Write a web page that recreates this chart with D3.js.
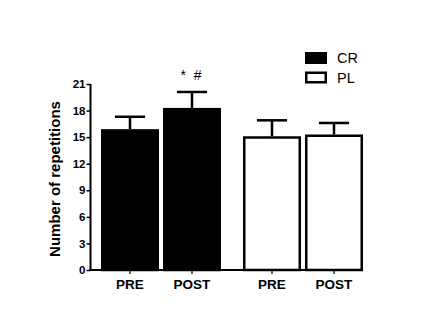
<!DOCTYPE html>
<html>
<head>
<meta charset="utf-8">
<script src="https://cdn.jsdelivr.net/npm/d3@7"></script>
<style>
  html, body { margin: 0; padding: 0; background: #fff; }
  svg { display: block; }
</style>
</head>
<body>
<svg id="chart" width="432" height="333"></svg>
<script>
// ---- data ----
const groups = ["CR", "PL"];
const phases = ["PRE", "POST"];
const crMeans = [15.9, 18.3];
const crErrors = [1.4, 1.8];
const plMeans = [15.1, 15.3];
const plErrors = [1.8, 1.3];
const yTicks = [0, 3, 6, 9, 12, 15, 18, 21];
const yLabel = "Number of repetitions";
const annotation = "* #";

const rows = [];
groups.forEach((g, gi) => {
  const means = gi === 0 ? crMeans : plMeans;
  const errs = gi === 0 ? crErrors : plErrors;
  phases.forEach((p, pi) => rows.push({ group: g, phase: p, mean: means[pi], err: errs[pi] }));
});

// ---- layout ----
const svg = d3.select("#chart");
const font = "'Liberation Sans', Arial, sans-serif";

const y = d3.scaleLinear().domain([0, 21]).range([270, 84]);
const xGroup = d3.scaleBand().domain(groups).range([101, 363]).paddingInner(0.155).paddingOuter(0);
const xPhase = d3.scaleBand().domain(phases).range([0, xGroup.bandwidth()]).paddingInner(0.0645).paddingOuter(0);
const fill = d3.scaleOrdinal().domain(groups).range(["#000", "#fff"]);

const sw = 2.5;

// bars
const bars = svg.append("g");
rows.forEach(d => {
  const x0 = xGroup(d.group) + xPhase(d.phase);
  const w = xPhase.bandwidth();
  const cx = x0 + w / 2;
  // error bar
  bars.append("line")
    .attr("x1", cx).attr("x2", cx)
    .attr("y1", y(d.mean)).attr("y2", y(d.mean + d.err))
    .attr("stroke", "#000").attr("stroke-width", sw);
  bars.append("line")
    .attr("x1", cx - w * 0.26).attr("x2", cx + w * 0.26)
    .attr("y1", y(d.mean + d.err)).attr("y2", y(d.mean + d.err))
    .attr("stroke", "#000").attr("stroke-width", sw);
  bars.append("rect")
    .attr("x", x0 + sw / 2).attr("y", y(d.mean) + sw / 2)
    .attr("width", w - sw).attr("height", y(0) - y(d.mean) - sw / 2)
    .attr("fill", fill(d.group))
    .attr("stroke", "#000").attr("stroke-width", sw);
});

// annotation above CR POST
const annRow = rows[1];
svg.append("text")
  .attr("x", xGroup(annRow.group) + xPhase(annRow.phase) + xPhase.bandwidth() / 2)
  .attr("y", y(annRow.mean + annRow.err) - 12)
  .attr("text-anchor", "middle")
  .attr("font-family", font).attr("font-size", 14)
  .attr("letter-spacing", "2px")
  .text(annotation);

// y axis
const yAxis = svg.append("g")
  .attr("transform", "translate(90.5,0)")
  .call(d3.axisLeft(y).tickValues(yTicks).tickSize(4).tickPadding(1).tickFormat(d3.format("d")));
yAxis.select(".domain").attr("stroke-width", 2).attr("d", `M0,${y(21)}V${y(0)}`);
yAxis.selectAll(".tick line").attr("stroke-width", 1.5);
yAxis.selectAll("text").attr("font-family", font).attr("font-size", 11.5).attr("font-weight", "bold").attr("fill", "#000");

// x axis
const xCenters = rows.map(d => ({ label: d.phase, x: xGroup(d.group) + xPhase(d.phase) + xPhase.bandwidth() / 2 }));
svg.append("line")
  .attr("x1", 89.5).attr("x2", xGroup("PL") + xGroup.bandwidth())
  .attr("y1", y(0)).attr("y2", y(0))
  .attr("stroke", "#000").attr("stroke-width", 2);
xCenters.forEach(c => {
  svg.append("line").attr("x1", c.x).attr("x2", c.x)
    .attr("y1", y(0)).attr("y2", y(0) + 4)
    .attr("stroke", "#000").attr("stroke-width", 1.2);
  svg.append("text").attr("x", c.x).attr("y", y(0) + 19)
    .attr("text-anchor", "middle")
    .attr("font-family", font).attr("font-size", 13.5).attr("font-weight", "bold")
    .text(c.label);
});

// y label
svg.append("text")
  .attr("transform", `translate(60,${(y(0) + y(21)) / 2 + 2}) rotate(-90)`)
  .attr("text-anchor", "middle")
  .attr("font-family", font).attr("font-size", 15).attr("font-weight", "bold")
  .text(yLabel);

// legend
const legend = svg.append("g");
groups.forEach((g, i) => {
  const ly = 52 + i * 19.5;
  legend.append("rect")
    .attr("x", 305 + sw / 2).attr("y", ly + sw / 2)
    .attr("width", 22 - sw).attr("height", 12 - sw)
    .attr("fill", fill(g)).attr("stroke", "#000").attr("stroke-width", sw);
  legend.append("text")
    .attr("x", 337).attr("y", ly + 11)
    .attr("font-family", font).attr("font-size", 14.5)
    .text(g);
});
</script>
</body>
</html>
